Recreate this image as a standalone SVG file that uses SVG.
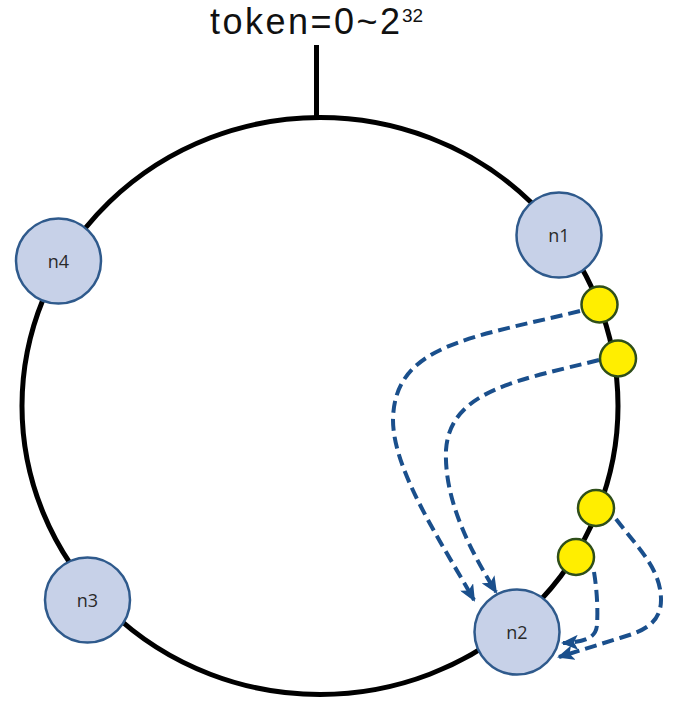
<svg xmlns="http://www.w3.org/2000/svg" width="677" height="706" viewBox="0 0 677 706">
  <style>
    .ring { fill: none; stroke: #000; stroke-width: 5; }
    .node circle { fill: #c7d1e8; stroke: #2f5a8c; stroke-width: 2.5; }
    .node text { font-family: "Open Sans", "Liberation Sans", sans-serif; font-size: 18px; fill: #2a2a2a; text-anchor: middle; }
    .key { fill: #ffee00; stroke: #2f4f1a; stroke-width: 2.5; }
    .flow { fill: none; stroke: #1a4f8c; stroke-width: 4; stroke-dasharray: 12 6; marker-end: url(#arr); }
    .title { font-family: "Liberation Sans", Arial, sans-serif; fill: #111; }
  </style>
  <defs>
    <marker id="arr" markerUnits="userSpaceOnUse" markerWidth="17" markerHeight="15" refX="15" refY="7.5" orient="auto">
      <path d="M0,0 L17,7.5 L0,15 L4,7.5 Z" fill="#1a4f8c"/>
    </marker>
  </defs>
  <rect width="677" height="706" fill="#fff"/>

  <g id="title">
    <text class="title" x="210" y="34" font-size="36" textLength="190" lengthAdjust="spacing">token=0~2</text>
    <text class="title" x="402" y="22" font-size="19">32</text>
  </g>

  <g id="ring">
    <line x1="316.5" y1="45" x2="316.5" y2="118" stroke="#000" stroke-width="5"/>
    <ellipse class="ring" cx="320" cy="406" rx="298" ry="288.5"/>
  </g>

  <g id="connectors">
    <path class="flow" d="M580,311 C470,338 394,345 393,420 C393,470 440,540 474,600"/>
    <path class="flow" d="M599,360 C520,380 450,390 446,450 C444,500 470,550 496,592"/>
    <path class="flow" d="M616,519 C640,550 661,570 661,600 C661,625 640,632 620,638 L559,657"/>
    <path class="flow" d="M594,572 C597,590 598,610 597,625 C596,638 585,642 563,643"/>
  </g>

  <g id="key1"><circle class="key" cx="599.5" cy="304.5" r="18"/></g>
  <g id="key2"><circle class="key" cx="618" cy="358.5" r="18"/></g>
  <g id="key3"><circle class="key" cx="596" cy="508" r="18"/></g>
  <g id="key4"><circle class="key" cx="576" cy="557" r="18"/></g>

  <g id="n1" class="node"><circle cx="559" cy="235" r="42.5"/><text x="559" y="242">n1</text></g>
  <g id="n2" class="node"><circle cx="517" cy="632" r="42.5"/><text x="517" y="639">n2</text></g>
  <g id="n3" class="node"><circle cx="87.5" cy="600" r="42.5"/><text x="87.5" y="607">n3</text></g>
  <g id="n4" class="node"><circle cx="58.5" cy="261" r="42.5"/><text x="58.5" y="268">n4</text></g>
</svg>
